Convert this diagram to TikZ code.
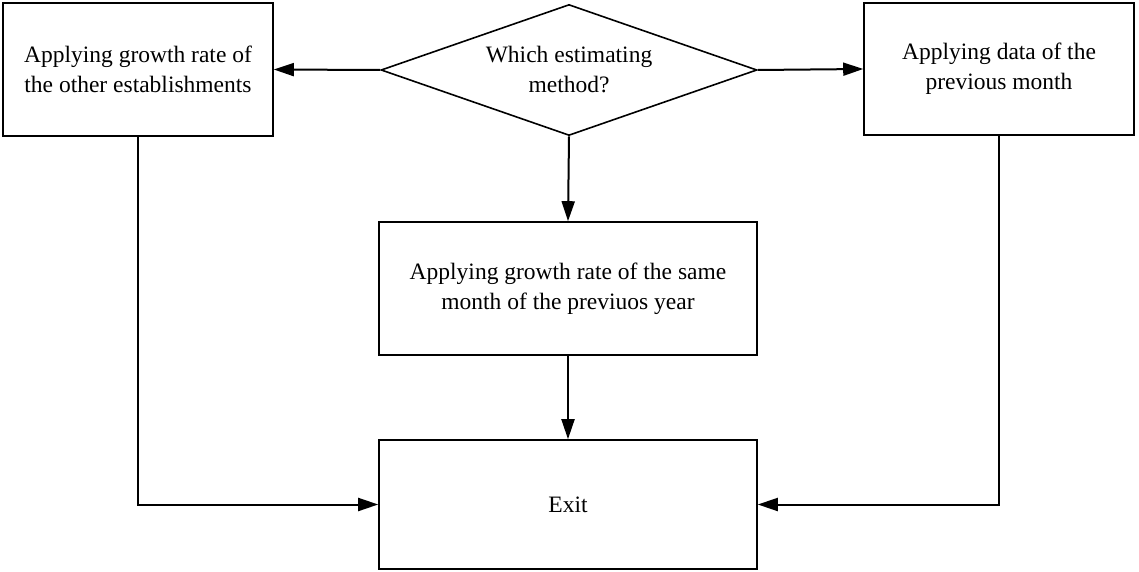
\documentclass[tikz,border=0pt]{standalone}
\usepackage{fontspec}
\setmainfont{Liberation Serif}
\usetikzlibrary{shapes.geometric,arrows.meta}

\begin{document}
\begin{tikzpicture}[x=1pt,y=-1pt,
  font=\fontsize{23.5}{30}\selectfont,
  procbox/.style={draw,line width=1.6pt,rectangle,align=center,inner sep=0pt},
  decision/.style={draw,line width=1.6pt,diamond,aspect=2.87,align=center,inner sep=0pt,
                   minimum width=376pt,minimum height=131pt},
  flow/.style={line width=2pt,-{Triangle[length=20pt,width=13pt]}}
]
\useasboundingbox (0,0) rectangle (1139,572);

% decision and process boxes
\node[decision] (choice) at (569,70) {Which estimating\\method?};
\node[procbox,minimum width=270pt,minimum height=133pt] (other) at (138,69.5)
  {Applying growth rate of\\the other establishments};
\node[procbox,minimum width=270pt,minimum height=132pt] (prevmonth) at (999,69)
  {Applying data of the\\previous month};
\node[procbox,minimum width=378pt,minimum height=133pt] (sameyear) at (568,288.5)
  {Applying growth rate of the same\\month of the previuos year};
\node[procbox,minimum width=378pt,minimum height=129pt] (exit) at (568,504.5) {Exit};

% connectors
\draw[flow] (choice.west) -- (other.east);
\draw[flow] (choice.east) -- (prevmonth.west);
\draw[flow] (choice.south) -- (sameyear.north);
\draw[flow] (sameyear.south) -- (exit.north);
\draw[flow] (other.south) |- (exit.west);
\draw[flow] (prevmonth.south) |- (exit.east);
\end{tikzpicture}
\end{document}
